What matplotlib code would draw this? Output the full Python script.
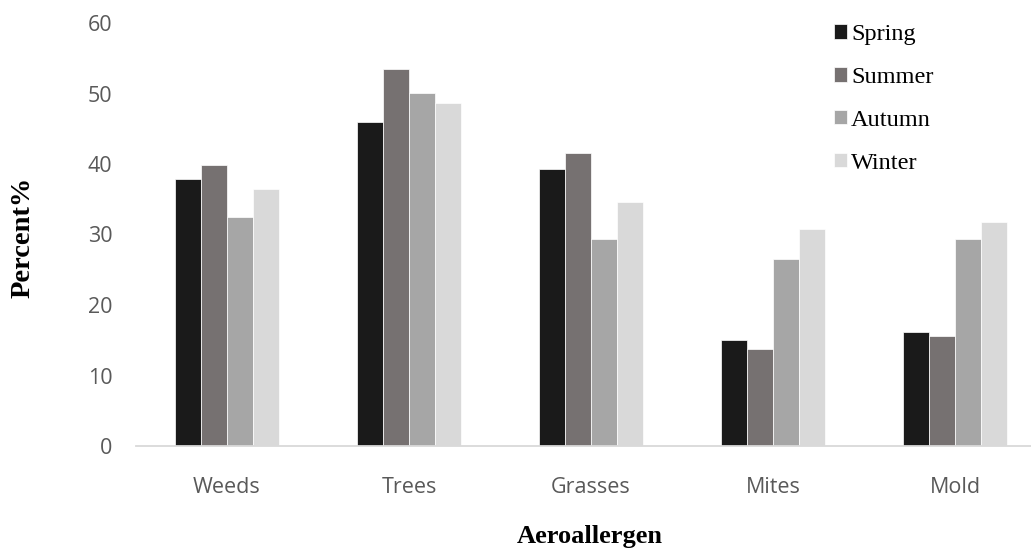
import numpy as np
import matplotlib.pyplot as plt

# percent of positive tests per aeroallergen group, by season
categories = ['Weeds', 'Trees', 'Grasses', 'Mites', 'Mold']
seasons = ['Spring', 'Summer', 'Autumn', 'Winter']
spring = [37.9, 46.0, 39.3, 15.0, 16.2]
summer = [39.8, 53.5, 41.5, 13.8, 15.6]
autumn = [32.5, 50.1, 29.4, 26.5, 29.4]
winter = [36.5, 48.7, 34.6, 30.8, 31.8]
colors = ['#1a1a1a', '#767171', '#a6a6a6', '#d9d9d9']

W, H = 1031, 548
fig = plt.figure(figsize=(W / 100, H / 100), dpi=100)
ax = fig.add_axes([136 / W, 102 / H, 910 / W, 423 / H])

x = np.arange(len(categories))
width = 0.143
for i, (vals, name) in enumerate(zip([spring, summer, autumn, winter], seasons)):
    ax.bar(x + (i - 1.5) * width, vals, width, color=colors[i], label=name,
           edgecolor='white', linewidth=0.5)

ax.set_xlim(-0.5, 4.5)
ax.set_ylim(0, 60)
ax.set_yticks(range(0, 61, 10))
ax.set_xticks(x)
ax.set_xticklabels(categories)

for s in ['top', 'right', 'left']:
    ax.spines[s].set_visible(False)
ax.spines['bottom'].set_color('#d9d9d9')
ax.spines['bottom'].set_linewidth(1.3)
ax.tick_params(axis='both', length=0, labelcolor='#595959', labelsize=15.5)
ax.tick_params(axis='y', pad=17)
ax.tick_params(axis='x', pad=22)
for lab in ax.get_xticklabels() + ax.get_yticklabels():
    lab.set_family('Open Sans')

fig.text(590 / W, 5 / H, 'Aeroallergen', family='Liberation Serif',
         weight='bold', fontsize=19, ha='center', va='baseline')
fig.text(23 / W, 1 - 237 / H, 'Percent%', family='Liberation Serif',
         weight='bold', fontsize=20.5, rotation=90, ha='center', va='center')

fig.legend(loc='upper left', bbox_to_anchor=(834 / W, 1 - 24 / H),
           frameon=False, borderpad=0, borderaxespad=0,
           prop={'family': 'Liberation Serif', 'size': 17.5},
           handlelength=0.55, handleheight=0.55, handletextpad=0.15,
           labelspacing=0.9)

fig.savefig('out.png', dpi=100)
